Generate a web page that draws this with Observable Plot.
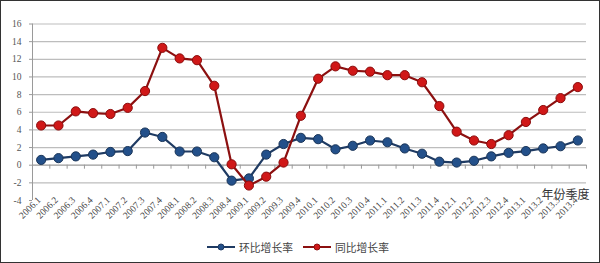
<!DOCTYPE html>
<html>
<head>
<meta charset="utf-8">
<script src="https://cdn.jsdelivr.net/npm/d3@7"></script>
<script src="https://cdn.jsdelivr.net/npm/@observablehq/plot@0.6"></script>
<style>
  html, body { margin: 0; padding: 0; background: #fff; }
  #wrap { position: relative; width: 600px; height: 263px; overflow: hidden; background: #fff; }
  #wrap > svg { position: absolute; left: 0; top: 0; }
  #border { position: absolute; left: 0; top: 0; width: 600px; height: 263px; box-sizing: border-box; border: 1px solid #333; pointer-events: none; }
  #legend { position: absolute; left: 206px; top: 239px; display: flex; align-items: center; font-family: "Noto Sans CJK SC", sans-serif; font-size: 10.8px; color: #444; }
  #legend .item { display: flex; align-items: center; margin-right: 9px; }
  #legend svg { position: static; margin-right: 3px; }
</style>
</head>
<body>
<div id="wrap"><div id="border"></div></div>
<script>
const categories = ["2006.1","2006.2","2006.3","2006.4","2007.1","2007.2","2007.3","2007.4",
  "2008.1","2008.2","2008.3","2008.4","2009.1","2009.2","2009.3","2009.4",
  "2010.1","2010.2","2010.3","2010.4","2011.1","2011.2","2011.3","2011.4",
  "2012.1","2012.2","2012.3","2012.4","2013.1","2013.2","2013.3","2013.4"];
const huanbi = [0.6,0.8,1.0,1.2,1.5,1.6,3.7,3.2,1.55,1.55,0.9,-1.75,-1.5,1.2,2.4,3.1,
  2.95,1.8,2.2,2.8,2.6,1.9,1.3,0.4,0.3,0.5,1.0,1.4,1.6,1.9,2.15,2.8];
const tongbi = [4.5,4.5,6.1,5.9,5.8,6.5,8.4,13.3,12.1,11.9,9.0,0.1,-2.3,-1.3,0.3,5.6,
  9.8,11.2,10.7,10.6,10.2,10.2,9.4,6.7,3.8,2.8,2.4,3.4,4.9,6.25,7.6,8.85];
const seriesNames = ["环比增长率", "同比增长率"];
const yTicks = [-4,-2,0,2,4,6,8,10,12,14,16];
const gridTicks = [-2,0,2,4,6,8,10,12,14,16];
const axisTitle = "年份季度";

const idx = categories.map((_, i) => i);
const boundaries = d3.range(categories.length + 1).map(i => i - 0.5);
const blueData = idx.map(i => ({i, v: huanbi[i]}));
const redData = idx.map(i => ({i, v: tongbi[i]}));

const blueLine = "#1f3b63", blueFill = "#23508a", blueStroke = "#1a3558";
const redLine = "#8c1010", redFill = "#d01818", redStroke = "#8a0c0c";
const tickFont = "'Liberation Serif', 'DejaVu Serif', serif";

const chart = Plot.plot({
  width: 600,
  height: 263,
  marginLeft: 32,
  marginRight: 14,
  marginTop: 23.5,
  marginBottom: 63,
  x: {type: "linear", domain: [-0.5, categories.length - 0.5], axis: null},
  y: {domain: [-4, 16], axis: null},
  style: {background: "transparent"},
  marks: [
    Plot.ruleY(gridTicks, {y: d => d, stroke: d => d === 0 ? "#9a9a9a" : "#bdbdbd", strokeWidth: 1.2}),
    Plot.ruleX([-0.5], {x: d => d, y1: 16, y2: -4, stroke: "#9a9a9a", strokeWidth: 1}),
    // y tick marks
    Plot.ruleY(yTicks, {y: d => d, x1: -0.5, x2: -0.5, insetLeft: -3, stroke: "#9a9a9a", strokeWidth: 1}),
    // x tick marks at category boundaries on the zero line
    Plot.ruleX(boundaries, {x: d => d, y1: 0, y2: 0, insetBottom: -4, stroke: "#9a9a9a", strokeWidth: 1}),
    // y tick labels
    Plot.text(yTicks, {x: -0.5, y: d => d, text: d => String(d), textAnchor: "end", dx: -11, fontSize: 9.5, fill: "#555", fontFamily: tickFont}),
    // x tick labels
    Plot.text(idx, {x: d => d, y: -4, text: d => categories[d], rotate: -45, textAnchor: "end", dx: -2, dy: -2, fontSize: 9.5, fill: "#444", fontFamily: tickFont}),
    // axis title
    Plot.text([axisTitle], {x: categories.length - 0.5, y: -4, text: d => d, textAnchor: "end", dx: 3, dy: -5, fontSize: 12, fill: "#333", fontFamily: "'Noto Sans CJK SC', sans-serif"}),
    Plot.line(blueData, {x: "i", y: "v", stroke: blueLine, strokeWidth: 2.2}),
    Plot.dot(blueData, {x: "i", y: "v", r: 4.6, fill: blueFill, stroke: blueStroke, strokeWidth: 1}),
    Plot.line(redData, {x: "i", y: "v", stroke: redLine, strokeWidth: 2.2}),
    Plot.dot(redData, {x: "i", y: "v", r: 4.6, fill: redFill, stroke: redStroke, strokeWidth: 1})
  ]
});

const wrap = document.getElementById("wrap");
wrap.insertBefore(chart, wrap.firstChild);

const legend = document.createElement("div");
legend.id = "legend";
const legendColors = [[blueLine, blueFill], [redLine, redFill]];
seriesNames.forEach((name, k) => {
  const item = document.createElement("div");
  item.className = "item";
  const [lc, fc] = legendColors[k];
  item.innerHTML = `<svg width="30" height="10"><line x1="1" y1="5" x2="29" y2="5" stroke="${lc}" stroke-width="2"/><circle cx="15" cy="5" r="3" fill="${fc}" stroke="${lc}"/></svg><span>${name}</span>`;
  legend.appendChild(item);
});
wrap.appendChild(legend);
</script>
</body>
</html>
